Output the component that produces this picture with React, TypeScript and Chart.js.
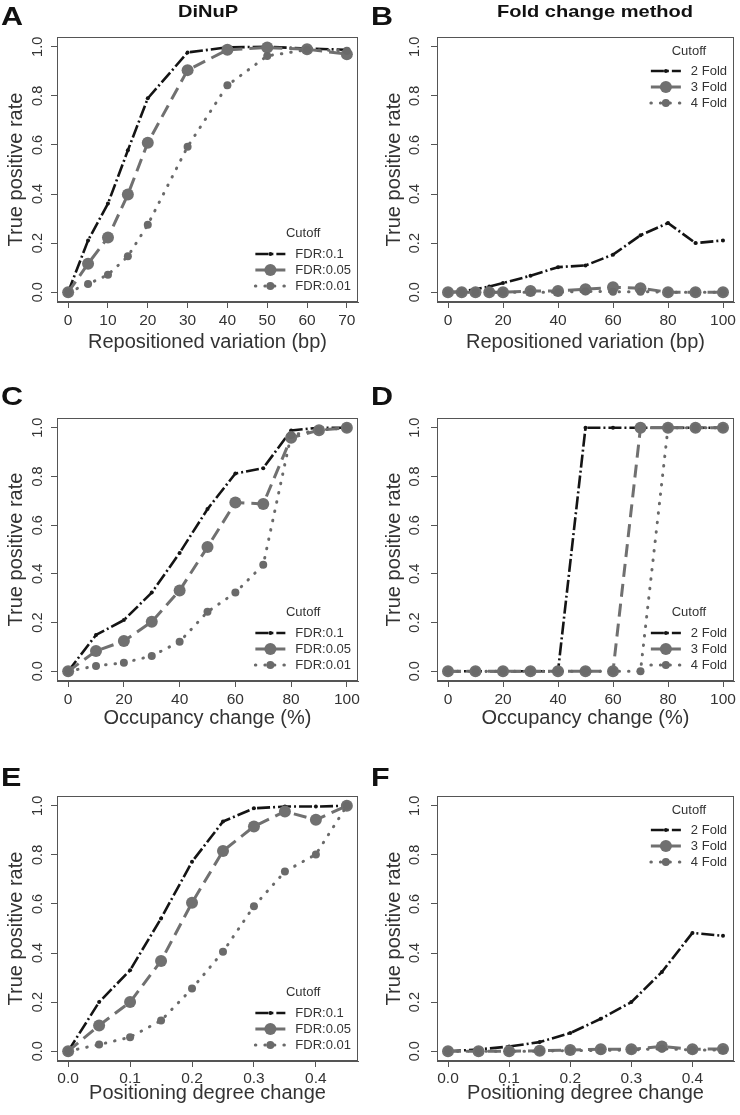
import React, { useEffect, useRef } from "react";
import { Chart, registerables } from "chart.js";

Chart.register(...registerables);

const FONT = '"Liberation Sans", Arial, Helvetica, sans-serif';

// ---------- Data ----------
const colTitles = ["DiNuP", "Fold change method"];
const legendTitle = "Cutoff";
const fdrNames = ["FDR:0.1", "FDR:0.05", "FDR:0.01"];
const foldNames = ["2 Fold", "3 Fold", "4 Fold"];
const yTitle = "True positive rate";
const yTicks = [0, 0.2, 0.4, 0.6, 0.8, 1.0];
const yTickLabels = ["0.0", "0.2", "0.4", "0.6", "0.8", "1.0"];

// Panel A – DiNuP, repositioned variation
const xRepoDiNuP = [0, 5, 10, 15, 20, 30, 40, 50, 60, 70];
const aFdr010 = [0, 0.211, 0.361, 0.578, 0.79, 0.977, 0.998, 1.0, 0.993, 0.988];
const aFdr005 = [0, 0.116, 0.223, 0.398, 0.609, 0.905, 0.988, 0.997, 0.99, 0.97];
const aFdr001 = [0, 0.033, 0.071, 0.146, 0.275, 0.593, 0.843, 0.963, 0.988, 0.984];
const xTicksRepoDiNuP = [0, 10, 20, 30, 40, 50, 60, 70];
const xTickLabelsRepoDiNuP = ["0", "10", "20", "30", "40", "50", "60", "70"];

// Panel B – Fold change, repositioned variation
const xRepoFold = [0, 5, 10, 15, 20, 30, 40, 50, 60, 70, 80, 90, 100];
const bFold2 = [0, 0.003, 0.012, 0.023, 0.037, 0.067, 0.102, 0.109, 0.153, 0.232, 0.282, 0.2, 0.211];
const bFold3 = [0, 0, 0, 0, 0, 0.005, 0.005, 0.012, 0.02, 0.016, 0, 0, 0];
const bFold4 = [0, 0, 0, 0, 0, 0, 0, 0.003, 0.002, 0.002, 0, 0, 0];
const xTicksHundred = [0, 20, 40, 60, 80, 100];
const xTickLabelsHundred = ["0", "20", "40", "60", "80", "100"];

// Panel C – DiNuP, occupancy change
const xOcc = [0, 10, 20, 30, 40, 50, 60, 70, 80, 90, 100];
const cFdr010 = [0, 0.149, 0.21, 0.323, 0.486, 0.666, 0.812, 0.834, 0.989, 1.0, 1.0];
const cFdr005 = [0, 0.083, 0.124, 0.203, 0.332, 0.51, 0.693, 0.687, 0.959, 0.99, 1.0];
const cFdr001 = [0, 0.022, 0.035, 0.063, 0.121, 0.244, 0.323, 0.437, 0.97, 0.99, 1.0];

// Panel D – Fold change, occupancy change
const dFold2 = [0, 0, 0, 0, 0, 1, 1, 1, 1, 1, 1];
const dFold3 = [0, 0, 0, 0, 0, 0, 0, 1, 1, 1, 1];
const dFold4 = [0, 0, 0, 0, 0, 0, 0, 0, 1, 1, 1];

// Panel E – DiNuP, positioning degree change
const xPos = [0, 0.05, 0.1, 0.15, 0.2, 0.25, 0.3, 0.35, 0.4, 0.45];
const eFdr010 = [0, 0.2, 0.33, 0.541, 0.772, 0.936, 0.99, 0.997, 0.997, 1.0];
const eFdr005 = [0, 0.105, 0.2, 0.368, 0.605, 0.816, 0.916, 0.977, 0.943, 1.0];
const eFdr001 = [0, 0.027, 0.057, 0.125, 0.255, 0.405, 0.591, 0.732, 0.802, 1.0];
const xTicksPos = [0, 0.1, 0.2, 0.3, 0.4];
const xTickLabelsPos = ["0.0", "0.1", "0.2", "0.3", "0.4"];

// Panel F – Fold change, positioning degree change
const fFold2 = [0, 0.007, 0.019, 0.037, 0.074, 0.132, 0.2, 0.323, 0.482, 0.47];
const fFold3 = [0, 0, 0, 0.002, 0.005, 0.008, 0.008, 0.019, 0.008, 0.009];
const fFold4 = [0, 0, 0, 0, 0.003, 0.003, 0.005, 0.01, 0.005, 0.005];

// ---------- Layout / style ----------
const ROW_TOP = [0, 372, 744];
const ROW_H = [372, 372, 371];
const AREA_TOP = [37, 46, 52];
const AREA_BOTTOM = [302, 309, 317];
const XAXIS_H = [50, 47, 42];
const XTICK_PAD = [3, 3, 2];
const COL_LEFT = [0, 370];
const COL_W = 370;
const AREA_LEFT = [57, 67];
const AREA_RIGHT = [358, 368];
const YTITLE_PAD = [6, 14];
const YTICK_OFF = [19, 22];
const LETTER_BASE = [25, 33, 42];
const COL_TITLE_X = [208, 225];

const STYLES = [
  { color: "#141414", width: 2.6, dash: [13, 3, 2, 3], radius: 2, cap: "butt" as CanvasLineCap, order: 3 },
  { color: "#707070", width: 3, dash: [13, 7], radius: 6, cap: "butt" as CanvasLineCap, order: 2 },
  { color: "#6a6a6a", width: 3, dash: [0.5, 9], radius: 4, cap: "round" as CanvasLineCap, order: 1 },
];

type PanelCfg = {
  letter: string;
  row: number;
  col: number;
  xs: number[];
  series: number[][];
  names: string[];
  xTicks: number[];
  xTickLabels: string[];
  xTitle: string;
  legendPos: "top" | "bottom";
};

const panels: PanelCfg[] = [
  { letter: "A", row: 0, col: 0, xs: xRepoDiNuP, series: [aFdr010, aFdr005, aFdr001], names: fdrNames, xTicks: xTicksRepoDiNuP, xTickLabels: xTickLabelsRepoDiNuP, xTitle: "Repositioned variation (bp)", legendPos: "bottom" },
  { letter: "B", row: 0, col: 1, xs: xRepoFold, series: [bFold2, bFold3, bFold4], names: foldNames, xTicks: xTicksHundred, xTickLabels: xTickLabelsHundred, xTitle: "Repositioned variation (bp)", legendPos: "top" },
  { letter: "C", row: 1, col: 0, xs: xOcc, series: [cFdr010, cFdr005, cFdr001], names: fdrNames, xTicks: xTicksHundred, xTickLabels: xTickLabelsHundred, xTitle: "Occupancy change (%)", legendPos: "bottom" },
  { letter: "D", row: 1, col: 1, xs: xOcc, series: [dFold2, dFold3, dFold4], names: foldNames, xTicks: xTicksHundred, xTickLabels: xTickLabelsHundred, xTitle: "Occupancy change (%)", legendPos: "bottom" },
  { letter: "E", row: 2, col: 0, xs: xPos, series: [eFdr010, eFdr005, eFdr001], names: fdrNames, xTicks: xTicksPos, xTickLabels: xTickLabelsPos, xTitle: "Positioning degree change", legendPos: "bottom" },
  { letter: "F", row: 2, col: 1, xs: xPos, series: [fFold2, fFold3, fFold4], names: foldNames, xTicks: xTicksPos, xTickLabels: xTickLabelsPos, xTitle: "Positioning degree change", legendPos: "top" },
];

function decorPlugin(p: PanelCfg) {
  return {
    id: "decor" + p.letter,
    afterDraw(chart: any) {
      const ctx: CanvasRenderingContext2D = chart.ctx;
      const a = chart.chartArea;
      const ys = chart.scales.y;
      ctx.save();
      // plot box
      ctx.setLineDash([]);
      ctx.strokeStyle = "#555";
      ctx.lineWidth = 1;
      ctx.strokeRect(Math.round(a.left) + 0.5, Math.round(a.top) + 0.5, Math.round(a.right - a.left) - 1, Math.round(a.bottom - a.top) - 1);

      // rotated y tick labels
      ctx.fillStyle = "#333";
      ctx.font = `14.5px ${FONT}`;
      ctx.textAlign = "center";
      ctx.textBaseline = "middle";
      yTicks.forEach((v, i) => {
        const py = ys.getPixelForValue(v);
        ctx.save();
        ctx.translate(a.left - YTICK_OFF[p.col], py);
        ctx.rotate(-Math.PI / 2);
        ctx.fillText(yTickLabels[i], 0, 0);
        ctx.restore();
      });

      // legend
      ctx.font = `13px ${FONT}`;
      const maxW = Math.max(...p.names.map((n) => ctx.measureText(n).width));
      const textEnd = a.right - 7;
      const textX = textEnd - maxW;
      const lx1 = textX - 40;
      const lx2 = textX - 10;
      const rowsY = p.legendPos === "bottom" ? [a.bottom - 48, a.bottom - 32, a.bottom - 16] : [a.top + 34, a.top + 50, a.top + 66];
      const titleY = p.legendPos === "bottom" ? a.bottom - 69 : a.top + 14;
      ctx.fillStyle = "#333";
      ctx.textAlign = "center";
      ctx.fillText(legendTitle, (lx1 + textEnd) / 2, titleY);
      p.names.forEach((n, i) => {
        const st = STYLES[i];
        const y = rowsY[i];
        ctx.strokeStyle = st.color;
        ctx.lineWidth = st.width;
        ctx.lineCap = st.cap;
        ctx.setLineDash(st.dash);
        ctx.beginPath();
        ctx.moveTo(lx1, y);
        ctx.lineTo(lx2, y);
        ctx.stroke();
        ctx.setLineDash([]);
        ctx.fillStyle = st.color;
        ctx.beginPath();
        ctx.arc((lx1 + lx2) / 2, y, st.radius, 0, Math.PI * 2);
        ctx.fill();
        ctx.fillStyle = "#333";
        ctx.textAlign = "left";
        ctx.fillText(n, textX, y);
      });

      // panel letter
      ctx.fillStyle = "#111";
      ctx.textBaseline = "alphabetic";
      ctx.textAlign = "left";
      ctx.font = `bold 25px ${FONT}`;
      ctx.save();
      ctx.translate(1, LETTER_BASE[p.row]);
      ctx.scale(1.22, 1);
      ctx.fillText(p.letter, 0, 0);
      ctx.restore();

      // column title
      if (p.row === 0) {
        ctx.font = `bold 17px ${FONT}`;
        ctx.textAlign = "center";
        ctx.save();
        ctx.translate(COL_TITLE_X[p.col], 17);
        ctx.scale(1.18, 1);
        ctx.fillText(colTitles[p.col], 0, 0);
        ctx.restore();
      }
      ctx.restore();
    },
  };
}

function buildConfig(p: PanelCfg): any {
  const lo = p.xs[0];
  const hi = p.xs[p.xs.length - 1];
  const ext = (hi - lo) * 0.04;
  const datasets = p.series.map((vals, i) => {
    const st = STYLES[i];
    return {
      label: p.names[i],
      data: p.xs.map((x, j) => ({ x, y: vals[j] })),
      borderColor: st.color,
      backgroundColor: st.color,
      borderWidth: st.width,
      borderDash: st.dash,
      borderCapStyle: st.cap,
      borderJoinStyle: "round",
      pointRadius: st.radius,
      pointBorderWidth: 0,
      pointBackgroundColor: st.color,
      pointBorderColor: st.color,
      tension: 0,
      order: st.order,
      clip: 10,
    };
  });
  const gridCommon = { drawOnChartArea: false, drawTicks: true, tickLength: 6, color: "#555", lineWidth: 1 };
  return {
    type: "line",
    data: { datasets },
    options: {
      animation: false,
      responsive: false,
      events: [],
      layout: {
        padding: {
          top: AREA_TOP[p.row],
          left: 0,
          right: COL_W - AREA_RIGHT[p.col],
          bottom: ROW_H[p.row] - AREA_BOTTOM[p.row] - XAXIS_H[p.row],
        },
      },
      plugins: { legend: { display: false }, tooltip: { enabled: false }, title: { display: false } },
      scales: {
        x: {
          type: "linear",
          min: lo - ext,
          max: hi + ext,
          afterBuildTicks: (s: any) => {
            s.ticks = p.xTicks.map((v) => ({ value: v }));
          },
          afterFit: (s: any) => {
            s.height = XAXIS_H[p.row];
            s.paddingLeft = 0;
            s.paddingRight = 0;
          },
          grid: gridCommon,
          border: { display: true, color: "#555", width: 1 },
          ticks: {
            font: { size: 15.5, family: FONT },
            color: "#333",
            padding: XTICK_PAD[p.row],
            maxRotation: 0,
            minRotation: 0,
            autoSkip: false,
            callback: (_v: any, i: number) => p.xTickLabels[i],
          },
          title: {
            display: true,
            text: p.xTitle,
            color: "#333",
            font: { size: 20, family: FONT, lineHeight: 1 },
            padding: 0,
          },
        },
        y: {
          type: "linear",
          min: -0.04,
          max: 1.04,
          afterBuildTicks: (s: any) => {
            s.ticks = yTicks.map((v) => ({ value: v }));
          },
          afterFit: (s: any) => {
            s.width = AREA_LEFT[p.col];
            s.paddingTop = 0;
            s.paddingBottom = 0;
          },
          grid: gridCommon,
          border: { display: true, color: "#555", width: 1 },
          ticks: { display: false },
          title: {
            display: true,
            text: yTitle,
            color: "#333",
            font: { size: 20, family: FONT, lineHeight: 1 },
            padding: { top: YTITLE_PAD[p.col], bottom: 0 },
          },
        },
      },
    },
    plugins: [decorPlugin(p)],
  };
}

function Panel({ p }: { p: PanelCfg }) {
  const ref = useRef<HTMLCanvasElement>(null);
  useEffect(() => {
    if (!ref.current) return;
    const chart = new Chart(ref.current, buildConfig(p));
    return () => chart.destroy();
  }, [p]);
  return (
    <canvas
      ref={ref}
      width={COL_W}
      height={ROW_H[p.row]}
      style={{
        position: "absolute",
        left: COL_LEFT[p.col],
        top: ROW_TOP[p.row],
        width: COL_W,
        height: ROW_H[p.row],
      }}
    />
  );
}

export default function App() {
  return (
    <div style={{ position: "absolute", left: 0, top: 0, width: 740, height: 1115, background: "#fff", overflow: "hidden" }}>
      {panels.map((p) => (
        <Panel key={p.letter} p={p} />
      ))}
    </div>
  );
}
